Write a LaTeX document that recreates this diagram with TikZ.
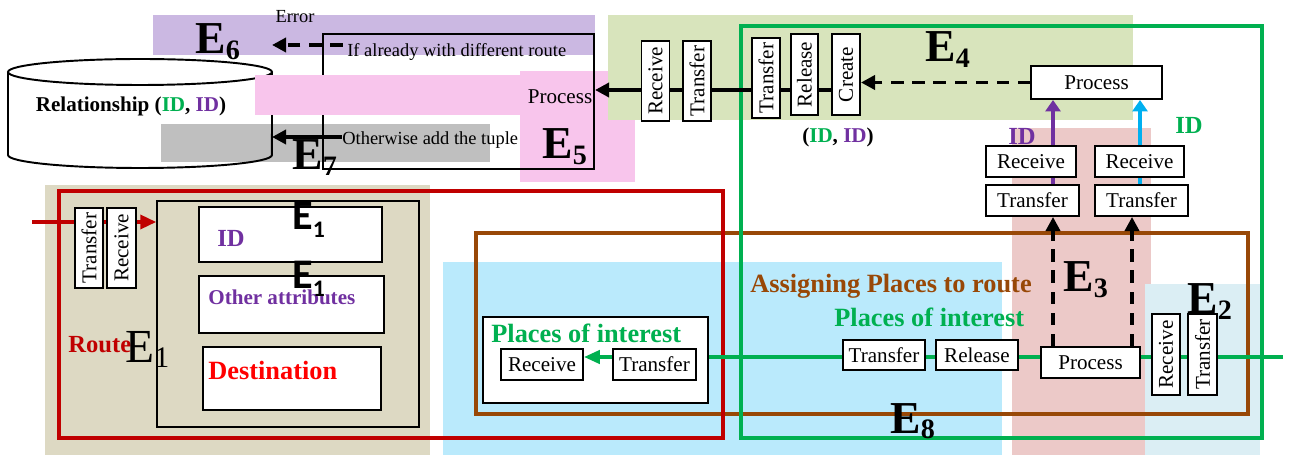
\documentclass[tikz,border=0pt]{standalone}
\usepackage{fontspec}
\setmainfont{Liberation Serif}
\newfontfamily\calfont{Carlito}
\usetikzlibrary{arrows.meta}
\definecolor{bgpurple}{RGB}{203,184,226}
\definecolor{bgpink}{RGB}{248,197,236}
\definecolor{bggray}{RGB}{191,191,191}
\definecolor{bggreen}{RGB}{216,228,188}
\definecolor{bgrose}{RGB}{236,201,200}
\definecolor{bgblue}{RGB}{219,238,244}
\definecolor{bgcyan}{RGB}{186,234,252}
\definecolor{bgtan}{RGB}{221,217,195}
\definecolor{dred}{RGB}{192,0,0}
\definecolor{mygreen}{RGB}{0,176,80}
\definecolor{mypurple}{RGB}{112,48,160}
\definecolor{mybrown}{RGB}{152,72,7}
\definecolor{mycyan}{RGB}{0,176,240}

\newcommand{\elab}[1]{\fontsize{26}{26}\selectfont\bfseries E\raisebox{-3pt}{\fontsize{16}{16}\selectfont #1}}
\newcommand{\eone}{{\calfont\bfseries\fontsize{24}{24}\selectfont E\raisebox{-4.5pt}{\fontsize{13.5}{13.5}\selectfont 1}}}

\tikzset{
  box/.style={draw, fill=white, line width=1.1pt, inner sep=0pt, font=\fontsize{12}{14}\selectfont},
  vbox/.style={box, rotate=90, minimum width=16mm, minimum height=5.6mm},
  hbox/.style={box, minimum height=6.2mm},
  txt/.style={inner sep=0pt, font=\fontsize{10.5}{12}\selectfont},
  btxt/.style={inner sep=0pt, font=\fontsize{15}{15}\selectfont\bfseries},
  elabel/.style={anchor=base west, inner sep=0pt},
  arr/.style={line width=2pt, -{Triangle[length=8pt,width=8pt]}},
  dasharr/.style={arr, dash pattern=on 7pt off 5pt}
}

\begin{document}
\begin{tikzpicture}[x=0.02cm, y=-0.02cm]
    \useasboundingbox (0,0) rectangle (1293,455);
    \fill[bgpurple] (153,15) rectangle (595,55);
    \fill[bgpink] (520,71) rectangle (635,182);
    \fill[bggreen] (608,15) rectangle (1133,120);
    \fill[bggray] (161,124) rectangle (490,162);
    \fill[bgrose] (1012,128) rectangle (1151,455);
    \fill[bgblue] (1145,284) rectangle (1260,455);
    \fill[bgcyan] (443,262) rectangle (1002,455);
    \fill[bgtan] (45,185) rectangle (430,455);

    % relationship store
    \draw[line width=1.1pt] (8,72) -- (8,155) arc[start angle=180, end angle=360, x radius=2.64cm, y radius=0.26cm] -- (272,72);
    \draw[line width=1.1pt] (140,72) ellipse[x radius=2.64cm, y radius=0.26cm];
    \node[font=\fontsize{12}{14}\selectfont\bfseries] (rel) at (131,106) {Relationship (\textcolor{mygreen}{ID}, \textcolor{mypurple}{ID})};
    \node[draw, line width=1.2pt, minimum width=54.2mm, minimum height=27mm, inner sep=0pt] (e5box) at (458.5,101.5) {};
    \fill[bgpink] (255,75) rectangle (520,115);

    \draw[mybrown, line width=2.8pt] (476,233) rectangle (1248,414);
    \draw[dred, line width=2pt] (59,191) rectangle (723,438);
    \draw[mygreen, line width=2.3pt] (741,26) rectangle (1262,438);
    \node[draw, line width=1pt, minimum width=52.4mm, minimum height=45.2mm, inner sep=0pt] (e1in) at (288,314) {};

    \coordinate (hl) at (846,90);
    \draw[arr] (hl) -- (hl -| e5box.east);
    \coordinate (rin) at (32,222);
    \draw[arr, dred, line width=1.8pt, -{Triangle[length=9pt,width=8pt]}] (rin) -- (rin -| e1in.west);
    \coordinate (gR) at (1283,357);
    \coordinate (gL) at (696,357);
    \draw[mygreen, line width=2pt] (gR) -- (gL);

    % upper right
    \node[hbox, minimum width=26.2mm, minimum height=6.6mm] (procT) at (1096.5,82.5) {Process};
    \coordinate (pa) at (1053,185);
    \coordinate (pb) at (1140,185);
    \draw[arr, mypurple, -{Triangle[length=6.5pt,width=8.5pt]}] (pa) -- (pa |- procT.south);
    \draw[arr, mycyan, -{Triangle[length=6.5pt,width=8.5pt]}] (pb) -- (pb |- procT.south);
    \node[font=\fontsize{14}{14}\selectfont\bfseries, text=mypurple] (idp) at (1022,136) {ID};
    \node[font=\fontsize{14}{14}\selectfont\bfseries, text=mygreen] (idg) at (1189,125) {ID};
    \node[hbox, minimum width=18mm] (recA) at (1031,161.5) {Receive};
    \node[hbox, minimum width=17.8mm] (recB) at (1139.5,161.5) {Receive};
    \node[hbox, minimum width=18.6mm] (trA) at (1032.5,200.5) {Transfer};
    \node[hbox, minimum width=18.6mm] (trB) at (1141.5,200.5) {Transfer};

    \node[vbox] (vRec1) at (655.5,81) {Receive};
    \node[vbox] (vTr1) at (697,81) {Transfer};
    \node[vbox] (vTr2) at (766,78) {Transfer};
    \node[vbox, minimum width=16.2mm, minimum height=5.4mm] (vRel) at (804.5,74.5) {Release};
    \node[vbox, minimum width=16.2mm] (vCre) at (846,74.5) {Create};
    \draw[dasharr] (procT.west) -- (procT.west -| vCre.south);

    % lower chain
    \node[hbox, minimum width=16.4mm, minimum height=6mm] (trL) at (884,355) {Transfer};
    \node[hbox, minimum width=16.4mm, minimum height=6mm] (relL) at (977,355) {Release};
    \node[hbox, minimum width=19.8mm] (procL) at (1090.5,362.5) {Process};
    \node[vbox, minimum width=16.2mm] (vRec2) at (1166,354.5) {Receive};
    \node[vbox, minimum width=16.2mm, minimum height=5.8mm] (vTr3) at (1202.5,354.5) {Transfer};
    \coordinate (da) at (1053,216);
    \coordinate (db) at (1132,216);
    \draw[dasharr] (procL.north -| da) -- (da |- trA.south);
    \draw[dasharr] (procL.north -| db) -- (db |- trB.south);

    \node[box, minimum width=45mm, minimum height=17.2mm] (poi) at (595.5,360) {};
    \node[btxt, anchor=base west, text=mygreen] (poiT) at (491,342) {Places of interest};
    \node[hbox, minimum width=16.4mm] (poiRec) at (542,364.5) {Receive};
    \node[hbox, minimum width=16.6mm] (poiTr) at (654.5,364.5) {Transfer};
    \draw[mygreen, line width=2pt, -{Triangle[length=9pt,width=7.5pt]}] (poiTr.west |- gL) -- (poiRec.east |- gL);
    \node[btxt, anchor=base west, text=mybrown] (asg) at (750,293) {Assigning Places to route};
    \node[btxt, anchor=base west, text=mygreen] (poiU) at (834,327) {Places of interest};

    % route
    \node[vbox, minimum height=5.6mm] (vTrL) at (89,248) {Transfer};
    \node[vbox, minimum height=5.8mm] (vRecL) at (121.5,248) {Receive};
    \node[box, minimum width=36.6mm, minimum height=11mm] (idb) at (290.5,234.5) {};
    \node[box, minimum width=37mm, minimum height=11.4mm] (oab) at (291.5,304.5) {};
    \node[box, minimum width=35.6mm, minimum height=12.6mm] (dsb) at (292,378.5) {};
    \node[anchor=west, inner sep=0pt, font=\fontsize{14}{14}\selectfont\bfseries, text=mypurple] (idt) at (217,238) {ID};
    \node[anchor=west, inner sep=0pt, font=\fontsize{12}{14}\selectfont\bfseries, text=mypurple] (oat) at (208,297) {Other attributes};
    \node[btxt, anchor=west, text=red] (dst) at (208,370) {Destination};
    \node[anchor=base west, inner sep=0pt, font=\fontsize{14}{14}\selectfont\bfseries, text=dred] (rt) at (68,353) {Route};

    % relationship side
    \node[txt] (err) at (295,17) {Error};
    \node[txt, anchor=west, inner sep=2.5pt] (ifal) at (342.6,52) {If already with different route};
    \coordinate (errtip) at (272,45);
    \draw[dasharr] (ifal.west |- errtip) -- (errtip);
    \node[txt, anchor=west] (oth) at (342,140) {Otherwise add the tuple};
    \coordinate (cylE) at (272,137);
    \draw[arr] (oth.west |- cylE) -- (cylE);
    \node[font=\fontsize{12}{14}\selectfont] (prc) at (560,97) {Process};
    \node[font=\fontsize{12}{14}\selectfont\bfseries] (idpair) at (838,137) {(\textcolor{mygreen}{ID}, \textcolor{mypurple}{ID})};

    \node[elabel] (e6) at (195,54) {\elab{6}};
    \node[elabel] (e5) at (542,159) {\elab{5}};
    \node[elabel] (e7) at (292,170) {\elab{7}};
    \node[elabel] (e4) at (925,62) {\elab{4}};
    \node[elabel] (e8) at (890,433) {\elab{8}};
    \node[elabel] (e3) at (1063,292) {\elab{3}};
    \node[elabel] (e2) at (1187,314) {\elab{2}};
    \node[elabel] (e1a) at (292,230) {\eone};
    \node[elabel] (e1b) at (292,289) {\eone};
    \node[elabel] (e1c) at (125,362) {\fontsize{27}{27}\selectfont E\raisebox{-3.4pt}{\fontsize{17}{17}\selectfont 1}};
\end{tikzpicture}
\end{document}
